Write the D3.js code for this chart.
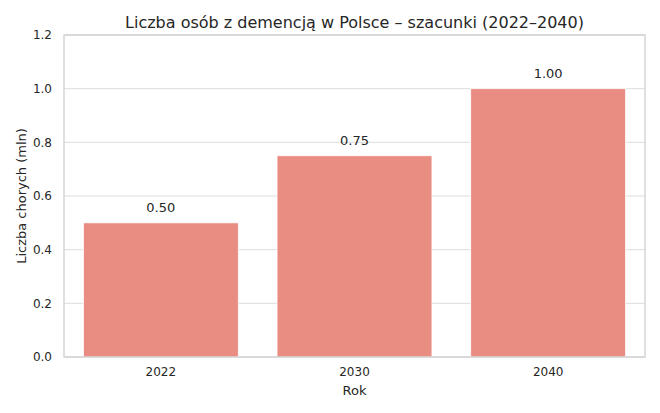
<!DOCTYPE html>
<html>
<head>
<meta charset="utf-8">
<script src="https://cdn.jsdelivr.net/npm/d3@7"></script>
<style>
    body { margin: 0; background: #fff; }
    text { font-family: "DejaVu Sans", sans-serif; fill: #262626; }
</style>
</head>
<body>
<div id="chart"></div>
<script>
// Data
var years = ["2022", "2030", "2040"];
var patients = [0.50, 0.75, 1.00];
var yTicks = [0.0, 0.2, 0.4, 0.6, 0.8, 1.0, 1.2];

// Svg Dimensions
var svgWidth = 660;
var svgHeight = 413;

var margin = { top: 35, right: 15, bottom: 56, left: 64 };

var chartWidth = svgWidth - margin.left - margin.right;
var chartHeight = svgHeight - margin.top - margin.bottom;

var svg = d3.select("#chart")
    .append("svg")
    .attr("width", svgWidth)
    .attr("height", svgHeight);

var chartGroup = svg.append("g")
    .attr("transform", `translate(${margin.left}, ${margin.top})`);

// Scales
var xScale = d3.scaleBand()
    .domain(years)
    .range([0, chartWidth])
    .paddingInner(0.2)
    .paddingOuter(0.1);

var yScale = d3.scaleLinear()
    .domain([0, 1.2])
    .range([chartHeight, 0]);

// Grid lines
chartGroup.append("g")
    .selectAll("line")
    .data(yTicks)
    .enter()
    .append("line")
    .attr("x1", 0)
    .attr("x2", chartWidth)
    .attr("y1", d => yScale(d))
    .attr("y2", d => yScale(d))
    .attr("stroke", "#dddddd")
    .attr("stroke-width", 1);

// Bars
chartGroup.selectAll(".bar")
    .data(patients)
    .enter()
    .append("rect")
    .classed("bar", true)
    .attr("x", (d, i) => xScale(years[i]))
    .attr("y", d => yScale(d))
    .attr("width", xScale.bandwidth())
    .attr("height", d => chartHeight - yScale(d))
    .attr("fill", "#e98d83")
    .attr("stroke", "#ffffff")
    .attr("stroke-width", 0.8);

// Value labels
chartGroup.selectAll(".valText")
    .data(patients)
    .enter()
    .append("text")
    .classed("valText", true)
    .attr("x", (d, i) => xScale(years[i]) + xScale.bandwidth() / 2)
    .attr("y", d => yScale(d) - 11)
    .attr("text-anchor", "middle")
    .attr("font-size", "13px")
    .text(d => d.toFixed(2));

// Axes
var bottomAxis = d3.axisBottom(xScale).tickSize(0).tickPadding(10);
var leftAxis = d3.axisLeft(yScale).tickValues(yTicks).tickSize(0).tickPadding(12)
    .tickFormat(d3.format(".1f"));

var xAxis = chartGroup.append("g")
    .attr("transform", `translate(0, ${chartHeight})`)
    .call(bottomAxis);

var yAxis = chartGroup.append("g")
    .call(leftAxis);

[xAxis, yAxis].forEach(function(ax) {
    ax.select(".domain").remove();
    ax.selectAll("text")
        .attr("font-size", "12px")
        .attr("font-family", "DejaVu Sans")
        .attr("fill", "#262626");
});

// Spines
chartGroup.append("rect")
    .attr("x", 0)
    .attr("y", 0)
    .attr("width", chartWidth)
    .attr("height", chartHeight)
    .attr("fill", "none")
    .attr("stroke", "#cccccc")
    .attr("stroke-width", 1.2);

// Title
svg.append("text")
    .attr("x", margin.left + chartWidth / 2)
    .attr("y", 28)
    .attr("text-anchor", "middle")
    .attr("font-size", "16px")
    .text("Liczba osób z demencją w Polsce – szacunki (2022–2040)");

// Axis labels
svg.append("text")
    .attr("x", margin.left + chartWidth / 2)
    .attr("y", 395)
    .attr("text-anchor", "middle")
    .attr("font-size", "13px")
    .text("Rok");

svg.append("text")
    .attr("transform", `translate(26, ${margin.top + chartHeight / 2}) rotate(-90)`)
    .attr("text-anchor", "middle")
    .attr("font-size", "13px")
    .text("Liczba chorych (mln)");
</script>
</body>
</html>
